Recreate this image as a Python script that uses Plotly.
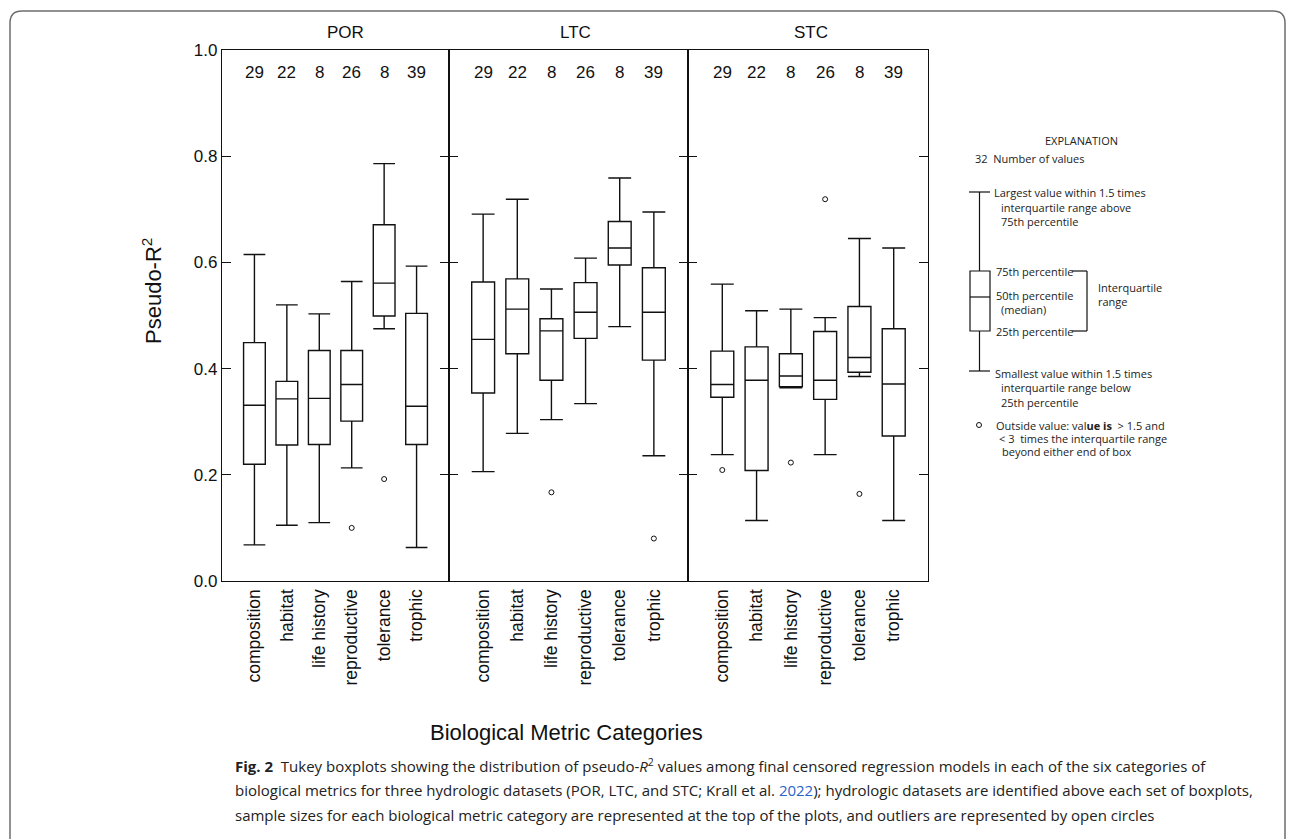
import plotly.graph_objects as go

# ---- data -------------------------------------------------------------
categories = ["composition", "habitat", "life history", "reproductive", "tolerance", "trophic"]
datasets = ["POR", "LTC", "STC"]
counts = [29, 22, 8, 26, 8, 39]

# Tukey box statistics per dataset (one value per category)
por_upper = [0.615, 0.520, 0.503, 0.564, 0.786, 0.593]
por_q3 = [0.449, 0.376, 0.434, 0.434, 0.671, 0.504]
por_median = [0.331, 0.343, 0.344, 0.370, 0.561, 0.329]
por_q1 = [0.220, 0.256, 0.257, 0.301, 0.499, 0.257]
por_lower = [0.068, 0.105, 0.110, 0.213, 0.475, 0.063]
por_outliers = [[], [], [], [0.100], [0.192], []]

ltc_upper = [0.691, 0.719, 0.550, 0.608, 0.759, 0.695]
ltc_q3 = [0.563, 0.569, 0.494, 0.562, 0.677, 0.590]
ltc_median = [0.455, 0.512, 0.471, 0.506, 0.627, 0.506]
ltc_q1 = [0.354, 0.428, 0.378, 0.457, 0.595, 0.416]
ltc_lower = [0.206, 0.278, 0.304, 0.334, 0.479, 0.236]
ltc_outliers = [[], [], [0.167], [], [], [0.080]]

stc_upper = [0.559, 0.509, 0.512, 0.496, 0.645, 0.627]
stc_q3 = [0.433, 0.441, 0.428, 0.470, 0.517, 0.475]
stc_median = [0.370, 0.378, 0.386, 0.378, 0.421, 0.371]
stc_q1 = [0.346, 0.208, 0.366, 0.342, 0.393, 0.273]
stc_lower = [0.238, 0.114, 0.364, 0.238, 0.385, 0.114]
stc_outliers = [[0.209], [], [0.223], [0.719], [0.164], []]

y_ticks = [0.0, 0.2, 0.4, 0.6, 0.8, 1.0]

# ---- page geometry (pixels) --------------------------------------------
W, H = 1295, 839
PLOT_TOP, PLOT_BOTTOM = 50, 581
PANEL_EDGES = [222, 449, 688, 928]


def px(x):
    return x / W


def py(y):
    return 1 - y / H


SANS = "Liberation Sans, Arial, Helvetica, sans-serif"
BODY = "Open Sans, Noto Sans, sans-serif"
INK = "#111111"

stats = [
    (por_q1, por_median, por_q3, por_lower, por_upper, por_outliers),
    (ltc_q1, ltc_median, ltc_q3, ltc_lower, ltc_upper, ltc_outliers),
    (stc_q1, stc_median, stc_q3, stc_lower, stc_upper, stc_outliers),
]
positions = list(range(1, len(categories) + 1))

fig = go.Figure()
annotations = []

for k, (q1, med, q3, lo, hi, outs) in enumerate(stats):
    xa = "x" if k == 0 else f"x{k + 1}"
    ya = "y" if k == 0 else f"y{k + 1}"
    fig.add_trace(go.Box(
        x=positions, q1=q1, median=med, q3=q3, lowerfence=lo, upperfence=hi,
        xaxis=xa, yaxis=ya, width=0.67, whiskerwidth=1,
        fillcolor="rgba(255,255,255,0)", line=dict(color=INK, width=1.4),
        boxpoints=False, showlegend=False, name=datasets[k],
    ))
    ox, oy = [], []
    for p, vals in zip(positions, outs):
        for v in vals:
            ox.append(p)
            oy.append(v)
    fig.add_trace(go.Scatter(
        x=ox, y=oy, mode="markers", xaxis=xa, yaxis=ya, showlegend=False,
        marker=dict(symbol="circle-open", size=5, color=INK, line=dict(width=1, color=INK)),
    ))
    # sample sizes along the top of each panel
    for p, n in zip(positions, counts):
        annotations.append(dict(
            x=p, y=0.957, xref=xa, yref=ya, text=str(n), showarrow=False,
            xanchor="center", yanchor="middle",
            font=dict(family=SANS, size=17, color=INK),
        ))

# dataset names above panels
for name, xc in zip(datasets, [345, 575, 811]):
    annotations.append(dict(
        x=px(xc), y=py(33), xref="paper", yref="paper", text=name, showarrow=False,
        xanchor="center", yanchor="middle",
        font=dict(family=SANS, size=17, color=INK),
    ))

# axis titles
annotations.append(dict(
    x=px(152), y=py(291), xref="paper", yref="paper", text="Pseudo-R<sup>2</sup>",
    textangle=-90, showarrow=False, xanchor="center", yanchor="middle",
    font=dict(family=SANS, size=22, color=INK),
))
annotations.append(dict(
    x=px(566), y=py(732), xref="paper", yref="paper", text="Biological Metric Categories",
    showarrow=False, xanchor="center", yanchor="middle",
    font=dict(family=SANS, size=22, color=INK),
))

# explanation key: text
key_text = [
    (1081, 141, "EXPLANATION", "center"),
    (973, 159, "32&nbsp;&nbsp;Number of values", "left"),
    (992, 193, "Largest value within 1.5 times", "left"),
    (999, 207, "interquartile range above", "left"),
    (999, 221, "75th percentile", "left"),
    (994, 271, "75th percentile", "left"),
    (994, 295, "50th percentile", "left"),
    (999, 309, "(median)", "left"),
    (994, 331, "25th percentile", "left"),
    (1096, 288, "Interquartile", "left"),
    (1096, 302, "range", "left"),
    (993, 373, "Smallest value within 1.5 times", "left"),
    (999, 387, "interquartile range below", "left"),
    (999, 402, "25th percentile", "left"),
    (994, 425, "Outside value: val<b>ue is</b>&nbsp; &gt; 1.5 and", "left"),
    (997, 438, "&lt; 3&nbsp; times the interquartile range", "left"),
    (1000, 451, "beyond either end of box", "left"),
]
for x, y, t, anchor in key_text:
    annotations.append(dict(
        x=px(x), y=py(y), xref="paper", yref="paper", text=t, showarrow=False,
        xanchor=anchor, yanchor="middle",
        font=dict(family=BODY, size=11, color="#222222"),
    ))

# figure caption
caption = [
    "<b>Fig. 2</b>&nbsp; Tukey boxplots showing the distribution of pseudo-<i>R</i><sup>2</sup> values among final "
    "censored regression models in each of the six categories of",
    "biological metrics for three hydrologic datasets (POR, LTC, and STC; Krall et al. "
    "<span style='color:#2a62c9'>2022</span>); hydrologic datasets are identified above each set of boxplots,",
    "sample sizes for each biological metric category are represented at the top of the plots, "
    "and outliers are represented by open circles",
]
for i, line in enumerate(caption):
    annotations.append(dict(
        x=px(233), y=py(765 + 25 * i), xref="paper", yref="paper", text=line,
        showarrow=False, xanchor="left", yanchor="middle",
        font=dict(family=BODY, size=15, color="#222222"),
    ))

# ---- shapes: card frame and explanation glyph ---------------------------
shapes = []
r = 12
x0, x1, y0, y1 = 10, 1285, 11, 860
path = (
    f"M {px(x0 + r)},{py(y0)} L {px(x1 - r)},{py(y0)} Q {px(x1)},{py(y0)} {px(x1)},{py(y0 + r)} "
    f"L {px(x1)},{py(y1 - r)} Q {px(x1)},{py(y1)} {px(x1 - r)},{py(y1)} "
    f"L {px(x0 + r)},{py(y1)} Q {px(x0)},{py(y1)} {px(x0)},{py(y1 - r)} "
    f"L {px(x0)},{py(y0 + r)} Q {px(x0)},{py(y0)} {px(x0 + r)},{py(y0)} Z"
)
shapes.append(dict(type="path", xref="paper", yref="paper", path=path,
                   line=dict(color="#6e6e6e", width=1.5)))


def seg(xa, ya, xb, yb, w=1.2):
    shapes.append(dict(type="line", xref="paper", yref="paper",
                       x0=px(xa), y0=py(ya), x1=px(xb), y1=py(yb),
                       line=dict(color=INK, width=w)))


seg(969, 192, 990, 192)
seg(979.5, 192, 979.5, 271)
shapes.append(dict(type="rect", xref="paper", yref="paper",
                   x0=px(970), x1=px(990), y0=py(331), y1=py(271),
                   line=dict(color=INK, width=1.2)))
seg(970, 297, 990, 297)
seg(979.5, 331, 979.5, 371)
seg(969, 371, 990, 371)
seg(1072, 271, 1087, 271)
seg(1087, 271, 1087, 331)
seg(1072, 331, 1087, 331)
shapes.append(dict(type="circle", xref="paper", yref="paper",
                   x0=px(976.5), x1=px(981.5), y0=py(427.5), y1=py(422.5),
                   line=dict(color=INK, width=1)))

# ---- axes -------------------------------------------------------------
layout = dict(
    width=W, height=H, margin=dict(l=0, r=0, t=0, b=0, pad=0, autoexpand=False),
    paper_bgcolor="white", plot_bgcolor="white",
    annotations=annotations, shapes=shapes, showlegend=False,
)
y_dom = [py(PLOT_BOTTOM), py(PLOT_TOP)]
for k in range(3):
    sx = "" if k == 0 else str(k + 1)
    anchor_y = "y" if k == 0 else f"y{k + 1}"
    anchor_x = "x" if k == 0 else f"x{k + 1}"
    layout[f"xaxis{sx}"] = dict(
        domain=[px(PANEL_EDGES[k]), px(PANEL_EDGES[k + 1])], anchor=anchor_y,
        range=[0, 7], tickmode="array", tickvals=positions, ticktext=categories,
        tickangle=-90, ticks="", showline=True, mirror=True, linecolor=INK, linewidth=1.3,
        showgrid=False, zeroline=False, automargin=False,
        tickfont=dict(family=SANS, size=17.5, color=INK),
    )
    layout[f"yaxis{sx}"] = dict(
        domain=y_dom, anchor=anchor_x, range=[0, 1], tickmode="array",
        tickvals=y_ticks, ticktext=[f"{v:.1f}" for v in y_ticks],
        ticks="inside", ticklen=9, tickwidth=1.2, tickcolor=INK,
        showline=True, mirror="ticks", linecolor=INK, linewidth=1.3,
        showgrid=False, zeroline=False, showticklabels=(k == 0), automargin=False,
        tickfont=dict(family=SANS, size=17, color=INK),
    )

fig.update_layout(**layout)
fig.write_html("out.html")
